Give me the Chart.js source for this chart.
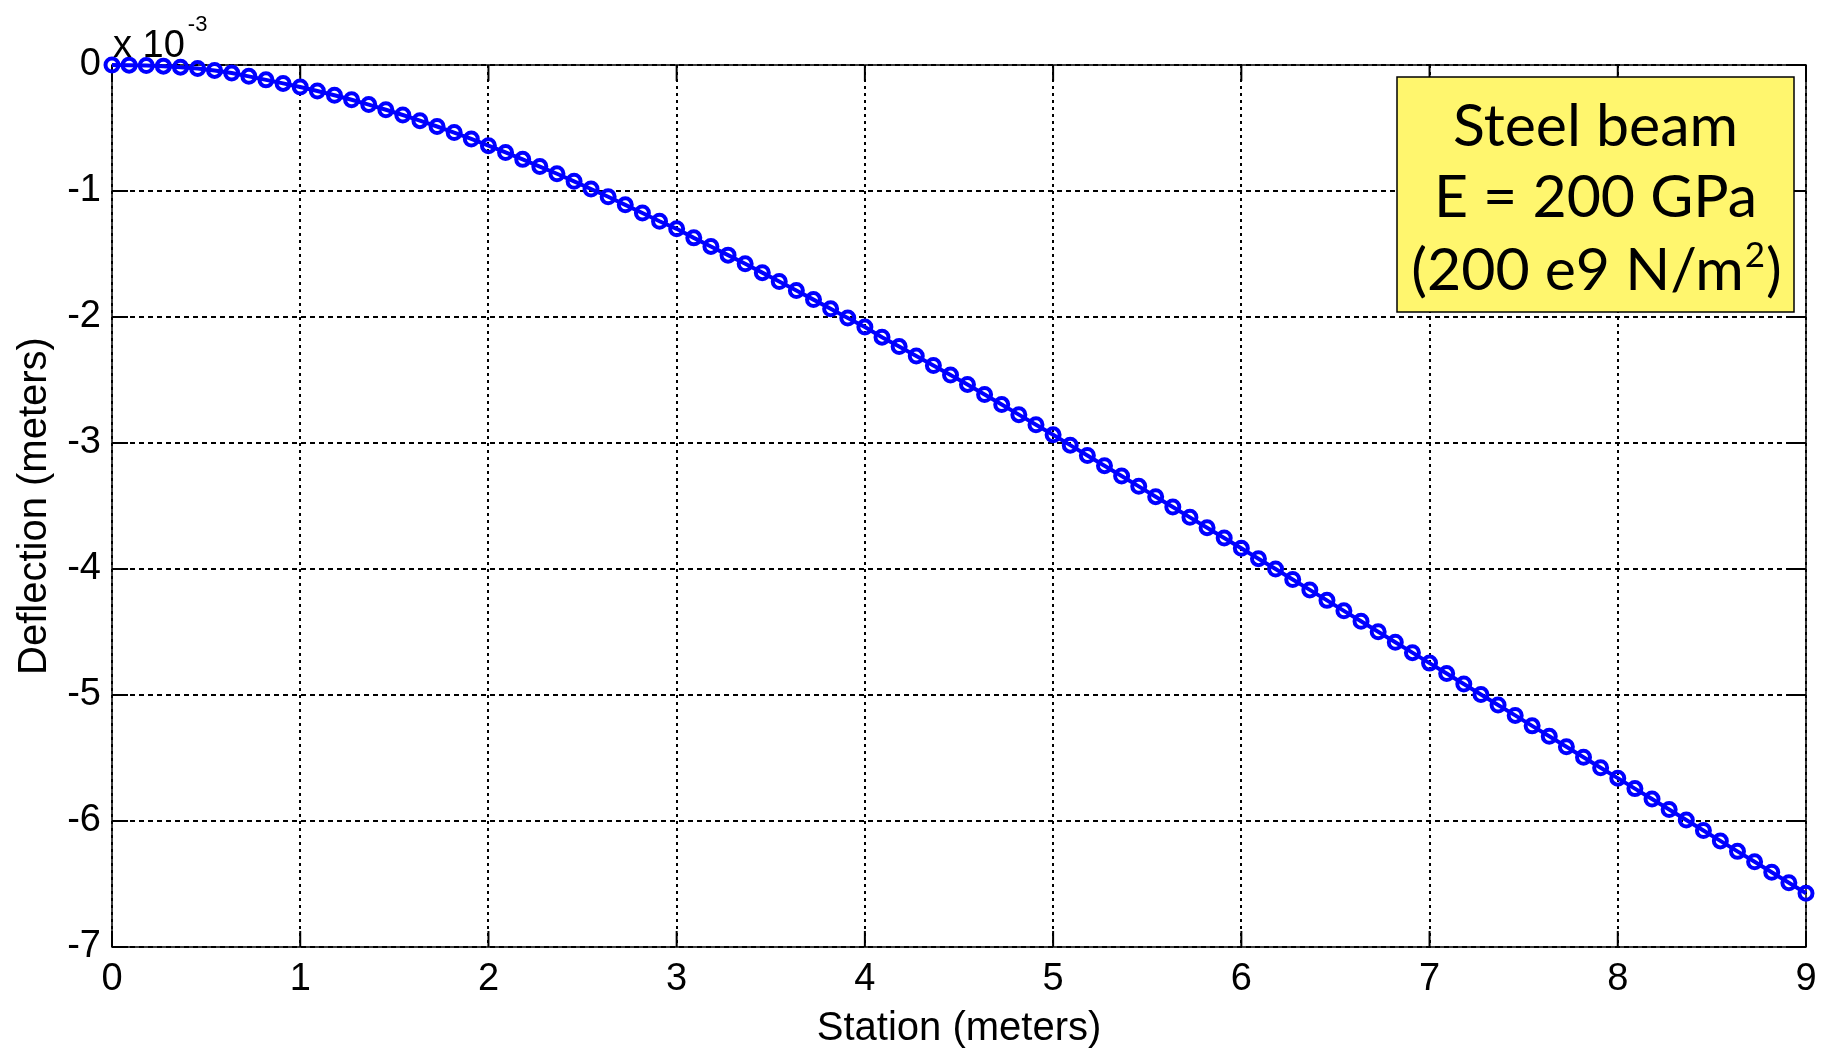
<!DOCTYPE html>
<html lang="en">
<head>
  <meta charset="UTF-8">
  <title>Beam deflection</title>
  <script src="https://cdn.jsdelivr.net/npm/chart.js"></script>
  <style>
    html, body {
      margin: 0;
      padding: 0;
      background: #fff;
    }
    #wrap {
      width: 1828px;
      height: 1053px;
    }
  </style>
</head>
<body>
  <div id="wrap">
    <canvas id="beamChart" width="1828" height="1053"></canvas>
  </div>

  <script>
    // station along the beam (m), one row per metre
    const stations = [
      0, 0.091, 0.182, 0.273, 0.364, 0.455, 0.545, 0.636, 0.727, 0.818, 0.909,
      1, 1.091, 1.182, 1.273, 1.364, 1.455, 1.545, 1.636, 1.727, 1.818, 1.909,
      2, 2.091, 2.182, 2.273, 2.364, 2.455, 2.545, 2.636, 2.727, 2.818, 2.909,
      3, 3.091, 3.182, 3.273, 3.364, 3.455, 3.545, 3.636, 3.727, 3.818, 3.909,
      4, 4.091, 4.182, 4.273, 4.364, 4.455, 4.545, 4.636, 4.727, 4.818, 4.909,
      5, 5.091, 5.182, 5.273, 5.364, 5.455, 5.545, 5.636, 5.727, 5.818, 5.909,
      6, 6.091, 6.182, 6.273, 6.364, 6.455, 6.545, 6.636, 6.727, 6.818, 6.909,
      7, 7.091, 7.182, 7.273, 7.364, 7.455, 7.545, 7.636, 7.727, 7.818, 7.909,
      8, 8.091, 8.182, 8.273, 8.364, 8.455, 8.545, 8.636, 8.727, 8.818, 8.909,
      9
    ];

    // deflection in units of 1e-3 m
    const deflection = [
      0, -0.001, -0.004, -0.009, -0.017, -0.028, -0.043, -0.064, -0.09, -0.118, -0.146,
      -0.175, -0.206, -0.24, -0.276, -0.314, -0.355, -0.397, -0.442, -0.488, -0.536, -0.587,
      -0.64, -0.694, -0.749, -0.806, -0.863, -0.923, -0.984, -1.046, -1.11, -1.175, -1.24,
      -1.30, -1.372, -1.44, -1.509, -1.578, -1.648, -1.718, -1.79, -1.862, -1.935, -2.008,
      -2.08, -2.16, -2.235, -2.31, -2.385, -2.46, -2.535, -2.615, -2.695, -2.775, -2.855,
      -2.935, -3.017, -3.099, -3.18, -3.262, -3.344, -3.426, -3.508, -3.59, -3.672, -3.754,
      -3.836, -3.918, -4.0, -4.083, -4.166, -4.249, -4.332, -4.415, -4.498, -4.581, -4.664,
      -4.747, -4.83, -4.913, -4.996, -5.079, -5.162, -5.245, -5.328, -5.411, -5.494, -5.577,
      -5.66, -5.743, -5.826, -5.909, -5.992, -6.075, -6.158, -6.241, -6.324, -6.407, -6.49,
      -6.573
    ];

    const xTicks = [0, 1, 2, 3, 4, 5, 6, 7, 8, 9];
    const yTicks = [-7, -6, -5, -4, -3, -2, -1, 0];

    const noteLines = ['Steel beam', 'E = 200 GPa', '(200 e9 N/m'];

    const tickFont = { family: '"Liberation Sans", Arial, sans-serif', size: 38 };
    const titleFont = { family: '"Liberation Sans", Arial, sans-serif', size: 40 };
    const noteFont = '59px Lato, "Open Sans", sans-serif';
    const supFont = '35px Lato, "Open Sans", sans-serif';

    // box, inward tick marks (drawn under the data)
    const axesBox = {
      id: 'axesBox',
      beforeDatasetsDraw(chart) {
        const { ctx, chartArea: a, scales: { x, y } } = chart;
        ctx.save();
        ctx.setLineDash([]);
        ctx.strokeStyle = '#000';
        ctx.lineWidth = 1.5;
        ctx.strokeRect(a.left, a.top, a.right - a.left, a.bottom - a.top);
        ctx.lineWidth = 2;
        ctx.beginPath();
        xTicks.forEach(v => {
          const px = x.getPixelForValue(v);
          ctx.moveTo(px, a.bottom); ctx.lineTo(px, a.bottom - 16);
          ctx.moveTo(px, a.top); ctx.lineTo(px, a.top + 16);
        });
        yTicks.forEach(v => {
          const py = y.getPixelForValue(v);
          ctx.moveTo(a.left, py); ctx.lineTo(a.left + 16, py);
          ctx.moveTo(a.right, py); ctx.lineTo(a.right - 16, py);
        });
        ctx.stroke();
        ctx.restore();
      },
      afterDraw(chart) {
        const { ctx, chartArea: a } = chart;
        ctx.save();
        // exponent label
        ctx.fillStyle = '#000';
        ctx.textBaseline = 'alphabetic';
        ctx.textAlign = 'left';
        ctx.font = '38px "Liberation Sans", Arial, sans-serif';
        ctx.fillText('x 10', a.left + 1, 57);
        const w = ctx.measureText('x 10').width;
        ctx.font = '22px "Liberation Sans", Arial, sans-serif';
        ctx.fillText('-3', a.left + 1 + w + 3, 31);

        // material note
        const bx = 1397, by = 77, bw = 397, bh = 235;
        ctx.fillStyle = '#fff66e';
        ctx.fillRect(bx, by, bw, bh);
        ctx.strokeStyle = '#000';
        ctx.lineWidth = 1.5;
        ctx.strokeRect(bx, by, bw, bh);

        const cx = bx + bw / 2;
        const baselines = [146, 217, 290];
        ctx.fillStyle = '#000';
        ctx.font = noteFont;
        ctx.textAlign = 'center';
        ctx.fillText(noteLines[0], cx, baselines[0]);
        ctx.fillText(noteLines[1], cx, baselines[1]);

        // last line carries a superscript
        ctx.textAlign = 'left';
        const mainW = ctx.measureText(noteLines[2]).width;
        const closeW = ctx.measureText(')').width;
        ctx.font = supFont;
        const supW = ctx.measureText('2').width;
        let sx = cx - (mainW + supW + closeW) / 2;
        ctx.font = noteFont;
        ctx.fillText(noteLines[2], sx, baselines[2]);
        sx += mainW;
        ctx.font = supFont;
        ctx.fillText('2', sx + 1, baselines[2] - 23);
        sx += supW + 2;
        ctx.font = noteFont;
        ctx.fillText(')', sx, baselines[2]);
        ctx.restore();
      }
    };

    const ctx = document.getElementById('beamChart').getContext('2d');
    new Chart(ctx, {
      type: 'line',
      data: {
        datasets: [{
          data: stations.map((s, i) => ({ x: s, y: deflection[i] })),
          borderColor: '#0000ff',
          borderWidth: 4,
          pointStyle: 'circle',
          pointRadius: 6.5,
          pointBorderWidth: 4,
          pointBorderColor: '#0000ff',
          pointBackgroundColor: 'rgba(0,0,0,0)',
          tension: 0,
          clip: false
        }]
      },
      options: {
        responsive: false,
        animation: false,
        devicePixelRatio: 1,
        layout: { padding: { top: 65, right: 22, left: 0, bottom: 0 } },
        plugins: {
          legend: { display: false },
          tooltip: { enabled: false }
        },
        scales: {
          x: {
            type: 'linear',
            min: 0,
            max: 9,
            afterBuildTicks: s => { s.ticks = xTicks.map(v => ({ value: v })); },
            afterFit: s => { s.height = 106; },
            grid: { color: '#000', lineWidth: 2, drawTicks: false },
            border: { display: false, dash: [3, 4] },
            ticks: { color: '#000', font: tickFont, padding: 10, maxRotation: 0 },
            title: {
              display: true,
              text: 'Station (meters)',
              color: '#000',
              font: titleFont,
              padding: { top: 0, bottom: 0 }
            }
          },
          y: {
            type: 'linear',
            min: -7,
            max: 0,
            afterBuildTicks: s => { s.ticks = yTicks.map(v => ({ value: v })); },
            afterFit: s => { s.width = 112; },
            grid: { color: '#000', lineWidth: 2, drawTicks: false },
            border: { display: false, dash: [5, 4] },
            ticks: { color: '#000', font: tickFont, padding: 11 },
            title: {
              display: true,
              text: 'Deflection (meters)',
              color: '#000',
              font: titleFont,
              padding: { top: 11, bottom: 0 }
            }
          }
        }
      },
      plugins: [axesBox]
    });
  </script>
</body>
</html>
